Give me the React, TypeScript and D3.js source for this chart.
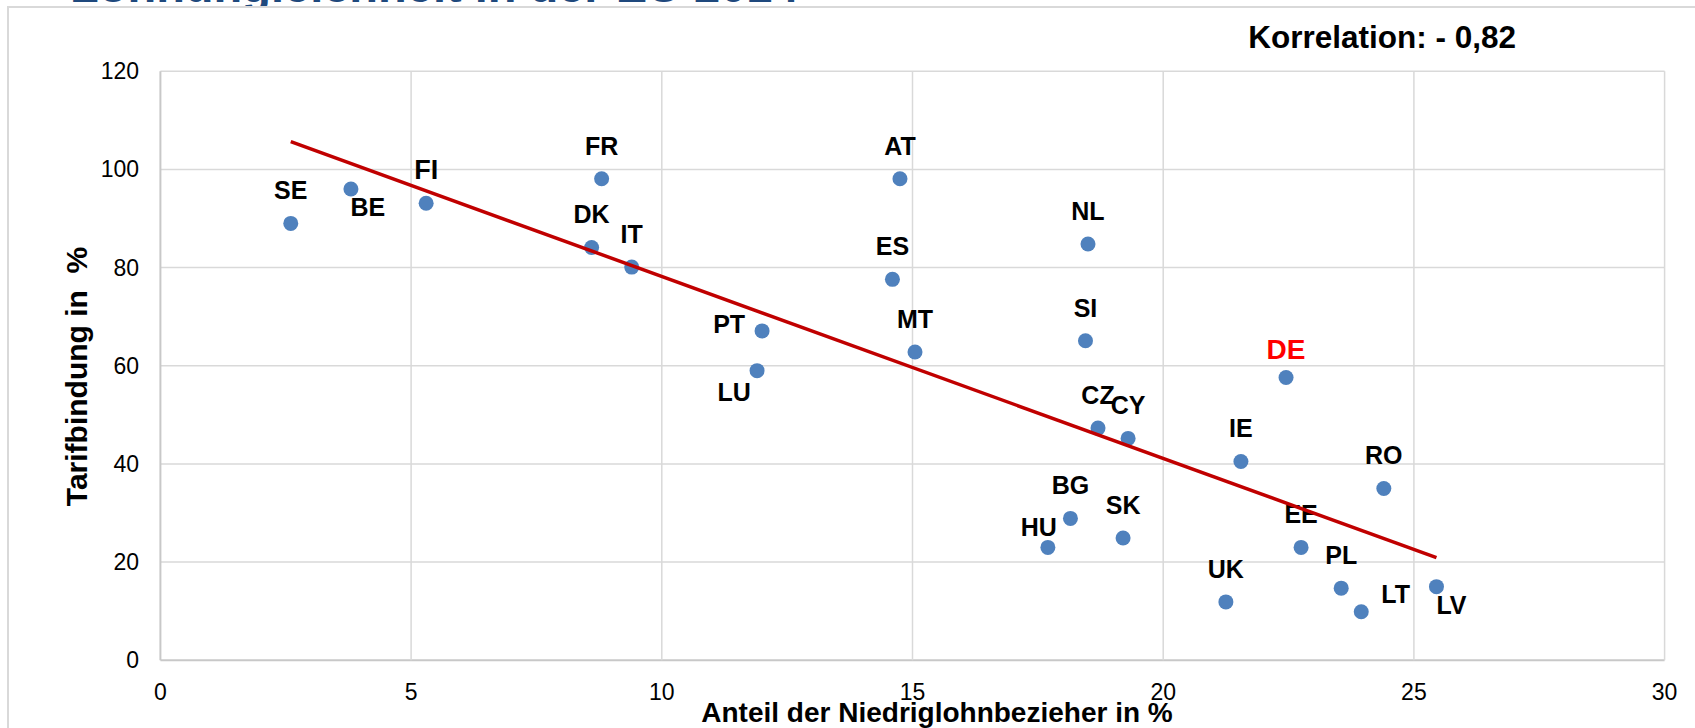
import React from 'react';
import * as d3 from 'd3';

// Länderkürzel und Werte
const codes = ['SE', 'BE', 'FI', 'DK', 'FR', 'IT', 'PT', 'LU', 'ES', 'AT', 'MT', 'SI', 'NL', 'CZ', 'CY', 'BG', 'HU', 'SK', 'IE', 'DE', 'UK', 'EE', 'PL', 'LT', 'RO', 'LV'];
const lowWageShare = [2.6, 3.8, 5.3, 8.6, 8.8, 9.4, 12.0, 11.9, 14.6, 14.75, 15.05, 18.45, 18.5, 18.7, 19.3, 18.15, 17.7, 19.2, 21.55, 22.45, 21.25, 22.75, 23.55, 23.95, 24.4, 25.45];
const bargainingCoverage = [89.0, 96.0, 93.1, 84.1, 98.1, 80.1, 67.1, 59.0, 77.6, 98.1, 62.8, 65.1, 84.8, 47.3, 45.2, 28.9, 23.0, 24.9, 40.5, 57.6, 11.9, 23.0, 14.7, 9.9, 35.0, 15.0];

const xTicks = [0, 5, 10, 15, 20, 25, 30];
const yTicks = [0, 20, 40, 60, 80, 100, 120];

const title = 'Lohnungleichheit in der EU 2014';
const correlationText = 'Korrelation: - 0,82';
const xTitle = 'Anteil der Niedriglohnbezieher in %';
const yTitle = 'Tarifbindung in  %';

const highlight = 'DE';

// label placement, default: centered above the dot
const labelLayout: Record<string, { dx: number; dy: number; anchor: string }> = {
  BE: { dx: 17, dy: 27, anchor: 'middle' },
  PT: { dx: -17, dy: 2, anchor: 'end' },
  LU: { dx: -23, dy: 30, anchor: 'middle' },
  LT: { dx: 20, dy: -9, anchor: 'start' },
  LV: { dx: 0, dy: 27, anchor: 'start' },
  HU: { dx: -9, dy: -11, anchor: 'middle' },
  DE: { dx: 0, dy: -19, anchor: 'middle' },
};

const W = 1695;
const H = 728;
const font = '"Liberation Sans", Arial, sans-serif';

export default function App() {
  const x = d3.scaleLinear().domain([0, 30]).range([160.4, 1664.6]);
  const y = d3.scaleLinear().domain([0, 120]).range([660.3, 71.2]);

  const points = codes.map((c, i) => ({ code: c, x: lowWageShare[i], y: bargainingCoverage[i] }));

  // least squares trend line over the data range
  const mx = d3.mean(points, (p) => p.x) as number;
  const my = d3.mean(points, (p) => p.y) as number;
  const sxy = d3.sum(points, (p) => (p.x - mx) * (p.y - my));
  const sxx = d3.sum(points, (p) => (p.x - mx) ** 2);
  const slope = sxy / sxx;
  const intercept = my - slope * mx;
  const [x0, x1] = d3.extent(points, (p) => p.x) as [number, number];
  const trend = d3.line<number>().x((v) => x(v)).y((v) => y(intercept + slope * v))([x0, x1]);

  return (
    <div style={{ position: 'absolute', left: 0, top: 0 }}>
      <svg width={W} height={H} style={{ display: 'block', fontFamily: font }}>
        <rect x={0} y={0} width={W} height={H} fill="#fff" />
        {/* title, mostly hidden behind the chart frame */}
        <text x={70} y={2} fill="#1F497D" fontSize={47} fontWeight="bold">{title}</text>
        <rect x={8} y={7} width={W + 20} height={H + 20} fill="#fff" stroke="#d9d9d9" strokeWidth={2} />

        <text x={1516} y={48} textAnchor="end" fontSize={31.5} fontWeight="bold" fill="#000">{correlationText}</text>

        {/* grid */}
        {yTicks.map((t) => (
          <line key={`gy${t}`} x1={x(0)} x2={x(30)} y1={y(t)} y2={y(t)}
            stroke={t === 0 ? '#c8c8c8' : '#d9d9d9'} strokeWidth={t === 0 ? 2 : 1.5} />
        ))}
        {xTicks.map((t) => (
          <line key={`gx${t}`} x1={x(t)} x2={x(t)} y1={y(0)} y2={y(120)}
            stroke={t === 0 ? '#c8c8c8' : '#d9d9d9'} strokeWidth={t === 0 ? 2 : 1.5} />
        ))}

        {/* tick labels */}
        {yTicks.map((t) => (
          <text key={`ly${t}`} x={139} y={y(t)} dy="0.35em" textAnchor="end" fontSize={23} fill="#000">{t}</text>
        ))}
        {xTicks.map((t) => (
          <text key={`lx${t}`} x={x(t)} y={700} textAnchor="middle" fontSize={23} fill="#000">{t}</text>
        ))}

        {/* axis titles */}
        <text x={937} y={722} textAnchor="middle" fontSize={28} fontWeight="bold" fill="#000">{xTitle}</text>
        <text transform={`translate(86.5, ${(245 + 508) / 2}) rotate(-90)`} textAnchor="middle"
          fontSize={30} fontWeight="bold" fill="#000" style={{ whiteSpace: 'pre' }}>{yTitle}</text>

        {/* dots */}
        {points.map((p) => (
          <circle key={`c${p.code}`} cx={x(p.x)} cy={y(p.y)} r={7.5} fill="#4F81BD" />
        ))}

        {/* labels */}
        {points.map((p) => {
          const l = labelLayout[p.code] ?? { dx: 0, dy: -24, anchor: 'middle' };
          const isHi = p.code === highlight;
          const size = isHi ? 28 : p.code === 'FI' ? 27 : 25;
          return (
            <text key={`t${p.code}`} x={x(p.x) + l.dx} y={y(p.y) + l.dy} textAnchor={l.anchor}
              fontSize={size} fontWeight="bold" fill={isHi ? '#FF0000' : '#000'}>{p.code}</text>
          );
        })}

        {/* trend line */}
        <path d={trend ?? ''} stroke="#C00000" strokeWidth={3.5} fill="none" />
      </svg>
    </div>
  );
}
